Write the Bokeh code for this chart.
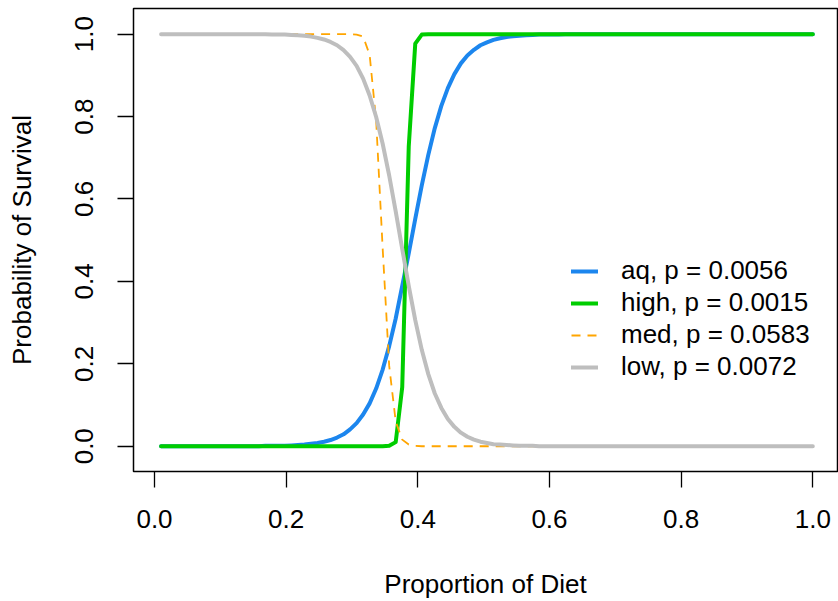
from bokeh.plotting import figure
from bokeh.models import FixedTicker, Legend, LegendItem, Range1d
from bokeh.embed import file_html
from bokeh.resources import INLINE

# proportion of diet (curve sample points)
diet = [
    0.0100, 0.0199, 0.0298, 0.0397, 0.0496, 0.0595, 0.0694, 0.0793, 0.0892, 0.0991,
    0.1090, 0.1189, 0.1288, 0.1387, 0.1486, 0.1585, 0.1684, 0.1783, 0.1882, 0.1981,
    0.2080, 0.2179, 0.2278, 0.2377, 0.2476, 0.2575, 0.2674, 0.2773, 0.2872, 0.2971,
    0.3070, 0.3169, 0.3268, 0.3367, 0.3466, 0.3565, 0.3664, 0.3763, 0.3862, 0.3961,
    0.4060, 0.4159, 0.4258, 0.4357, 0.4456, 0.4555, 0.4654, 0.4753, 0.4852, 0.4951,
    0.5050, 0.5149, 0.5248, 0.5347, 0.5446, 0.5545, 0.5644, 0.5743, 0.5842, 0.5941,
    0.6040, 0.6139, 0.6238, 0.6337, 0.6436, 0.6535, 0.6634, 0.6733, 0.6832, 0.6931,
    0.7030, 0.7129, 0.7228, 0.7327, 0.7426, 0.7525, 0.7624, 0.7723, 0.7822, 0.7921,
    0.8020, 0.8119, 0.8218, 0.8317, 0.8416, 0.8515, 0.8614, 0.8713, 0.8812, 0.8911,
    0.9010, 0.9109, 0.9208, 0.9307, 0.9406, 0.9505, 0.9604, 0.9703, 0.9802, 0.9901,
    1.0000,
]

aq = [
    0, 0, 0, 0, 0, 0, 0, 0, 0, 0,
    0, 0, 0, 0, 0, 0, 0.001, 0.001, 0.001, 0.001,
    0.002, 0.003, 0.004, 0.006, 0.008, 0.011, 0.015, 0.021, 0.029, 0.041,
    0.056, 0.077, 0.104, 0.140, 0.186, 0.243, 0.310, 0.389, 0.468, 0.552,
    0.633, 0.707, 0.772, 0.826, 0.869, 0.903, 0.929, 0.948, 0.962, 0.973,
    0.980, 0.986, 0.990, 0.993, 0.995, 0.996, 0.997, 0.998, 0.999, 0.999,
    0.999, 0.999, 1, 1, 1, 1, 1, 1, 1, 1,
    1, 1, 1, 1, 1, 1, 1, 1, 1, 1,
    1, 1, 1, 1, 1, 1, 1, 1, 1, 1,
    1, 1, 1, 1, 1, 1, 1, 1, 1, 1,
    1,
]

high = [
    0, 0, 0, 0, 0, 0, 0, 0, 0, 0,
    0, 0, 0, 0, 0, 0, 0, 0, 0, 0,
    0, 0, 0, 0, 0, 0, 0, 0, 0, 0,
    0, 0, 0, 0, 0, 0.001, 0.010, 0.143, 0.727, 0.977,
    0.999, 1, 1, 1, 1, 1, 1, 1, 1, 1,
    1, 1, 1, 1, 1, 1, 1, 1, 1, 1,
    1, 1, 1, 1, 1, 1, 1, 1, 1, 1,
    1, 1, 1, 1, 1, 1, 1, 1, 1, 1,
    1, 1, 1, 1, 1, 1, 1, 1, 1, 1,
    1, 1, 1, 1, 1, 1, 1, 1, 1, 1,
    1,
]

med = [
    1, 1, 1, 1, 1, 1, 1, 1, 1, 1,
    1, 1, 1, 1, 1, 1, 1, 1, 1, 1,
    1, 1, 1, 1, 1, 1, 1, 1, 1, 1,
    0.999, 0.994, 0.950, 0.790, 0.480, 0.195, 0.060, 0.016, 0.004, 0.001,
    0, 0, 0, 0, 0, 0, 0, 0, 0, 0,
    0, 0, 0, 0, 0, 0, 0, 0, 0, 0,
    0, 0, 0, 0, 0, 0, 0, 0, 0, 0,
    0, 0, 0, 0, 0, 0, 0, 0, 0, 0,
    0, 0, 0, 0, 0, 0, 0, 0, 0, 0,
    0, 0, 0, 0, 0, 0, 0, 0, 0, 0,
    0,
]

low = [
    1, 1, 1, 1, 1, 1, 1, 1, 1, 1,
    1, 1, 1, 1, 1, 1, 1, 0.999, 0.999, 0.999,
    0.998, 0.997, 0.996, 0.994, 0.991, 0.987, 0.981, 0.973, 0.961, 0.945,
    0.923, 0.892, 0.851, 0.799, 0.734, 0.657, 0.570, 0.479, 0.389, 0.306,
    0.234, 0.175, 0.128, 0.093, 0.066, 0.047, 0.033, 0.023, 0.016, 0.011,
    0.008, 0.005, 0.004, 0.003, 0.002, 0.001, 0.001, 0.001, 0, 0,
    0, 0, 0, 0, 0, 0, 0, 0, 0, 0,
    0, 0, 0, 0, 0, 0, 0, 0, 0, 0,
    0, 0, 0, 0, 0, 0, 0, 0, 0, 0,
    0, 0, 0, 0, 0, 0, 0, 0, 0, 0,
    0,
]

series_labels = ["aq, p = 0.0056", "high, p = 0.0015", "med, p = 0.0583", "low, p = 0.0072"]
x_ticks = [0.0, 0.2, 0.4, 0.6, 0.8, 1.0]
x_tick_labels = ["0.0", "0.2", "0.4", "0.6", "0.8", "1.0"]
y_ticks = [0.0, 0.2, 0.4, 0.6, 0.8, 1.0]
y_tick_labels = ["0.0", "0.2", "0.4", "0.6", "0.8", "1.0"]

FONT = "Liberation Sans"
FS = "26px"

p = figure(width=838, height=601, output_backend="svg", toolbar_location=None,
           x_range=Range1d(-0.0319, 1.0375), y_range=Range1d(-0.0613, 1.0622),
           min_border_left=133, min_border_right=1, min_border_top=8, min_border_bottom=129)
p.background_fill_color = "white"
p.border_fill_color = "white"
p.outline_line_color = "black"
p.outline_line_width = 1.5
p.xgrid.visible = False
p.ygrid.visible = False

r_aq = p.line(diet, aq, line_color="#1C86EE", line_width=4, line_cap="round", line_join="round")
r_high = p.line(diet, high, line_color="#00CD00", line_width=4, line_cap="round", line_join="round")
r_med = p.line(diet, med, line_color="#FFA500", line_width=1.8, line_dash="9 7")
r_low = p.line(diet, low, line_color="#BEBEBE", line_width=4, line_cap="round", line_join="round")

for ax, ticks, labels in ((p.xaxis[0], x_ticks, x_tick_labels), (p.yaxis[0], y_ticks, y_tick_labels)):
    ax.ticker = FixedTicker(ticks=ticks)
    ax.major_label_overrides = {t: l for t, l in zip(ticks, labels)}
    ax.axis_line_color = None
    ax.major_tick_line_color = "black"
    ax.major_tick_line_width = 1.3
    ax.major_tick_out = 16
    ax.major_tick_in = 0
    ax.minor_tick_line_color = None
    ax.major_label_text_font = FONT
    ax.major_label_text_font_size = FS
    ax.major_label_text_color = "black"
    ax.axis_label_text_font = FONT
    ax.axis_label_text_font_size = FS
    ax.axis_label_text_font_style = "normal"
    ax.axis_label_text_color = "black"

p.xaxis[0].axis_label = "Proportion of Diet"
p.xaxis[0].major_label_standoff = 22
p.xaxis[0].axis_label_standoff = 38
p.yaxis[0].axis_label = "Probability of Survival"
p.yaxis[0].major_label_orientation = "vertical"
p.yaxis[0].major_label_standoff = 24
p.yaxis[0].axis_label_standoff = 36

legend = Legend(items=[LegendItem(label=lab, renderers=[r]) for lab, r in
                       zip(series_labels, [r_aq, r_high, r_med, r_low])],
                location=(438, 89), padding=0, margin=0, spacing=1,
                glyph_width=27, glyph_height=20, label_standoff=23,
                label_text_font=FONT, label_text_font_size=FS, label_text_color="black",
                border_line_color=None, background_fill_alpha=0)
p.add_layout(legend)

open("out.html", "w").write(file_html(p, INLINE))
